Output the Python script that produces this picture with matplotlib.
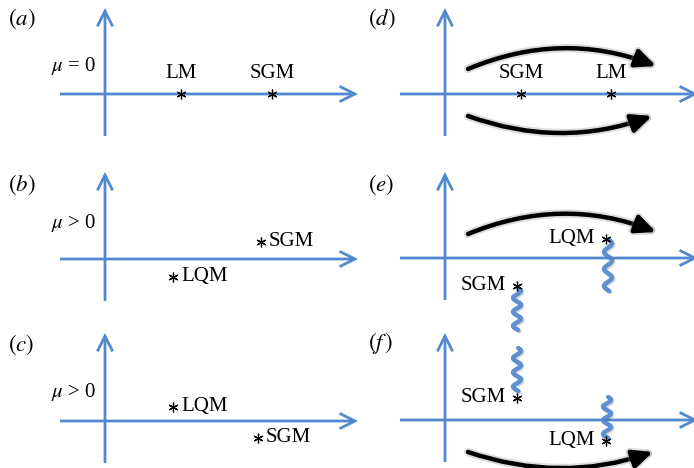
import numpy as np
import matplotlib.pyplot as plt
from matplotlib.patches import FancyArrowPatch, ArrowStyle
from matplotlib import patheffects

plt.rcParams['font.family'] = ['Liberation Serif', 'DejaVu Serif']
plt.rcParams['mathtext.fontset'] = 'stix'

BLUE = '#5089cf'
WAVE = '#4f86d0'

# panel labels and origins (x of vertical axis, y of horizontal axis), in pixels
panel_labels = ['$(a)$', '$(b)$', '$(c)$', '$(d)$', '$(e)$', '$(f\\,)$']
label_pos = [(8, 19), (8, 185), (8, 345), (368, 19), (368, 185), (368, 343)]
origin_x = [105, 105, 105, 445, 445, 445]
origin_y = [94, 259, 421, 94, 258, 420]
mu_labels = [r'$\mu$ = 0', r'$\mu$ > 0', r'$\mu$ > 0', None, None, None]
mu_y = [66, 223, 392]

# modes: panel index, x, y, label, label placement
mode_panel = [0, 0, 1, 1, 2, 2, 3, 3, 4, 4, 5, 5]
mode_x = [181, 272, 261, 173, 173, 258, 521, 611, 606, 517, 517, 606]
mode_y = [94, 94, 242, 277, 407, 438, 94, 94, 239, 286, 398, 441]
mode_names = ['LM', 'SGM', 'SGM', 'LQM', 'LQM', 'SGM',
              'SGM', 'LM', 'LQM', 'SGM', 'SGM', 'LQM']
mode_place = ['above', 'above', 'right', 'right', 'right', 'right',
              'above', 'above', 'left', 'left', 'left', 'left']

# decaying (wavy) modes: x, y top, y bottom
wave_x = [608, 517, 517, 607]
wave_top = [240, 288, 348, 397]
wave_bottom = [291, 330, 391, 438]

# curved transfer arrows: start, end, bend
curve_start = [(468, 69), (468, 116), (468, 234), (468, 452)]
curve_end = [(656, 66), (652, 116), (656, 232), (653, 452)]
curve_rad = [-0.2, 0.18, -0.2, 0.17]


def axis_arrow(ax, start, end):
    style = ArrowStyle('->', head_length=11, head_width=5.5)
    ax.add_patch(FancyArrowPatch(start, end, arrowstyle=style, mutation_scale=1,
                                 color=BLUE, lw=2.0, shrinkA=0, shrinkB=0,
                                 capstyle='butt', joinstyle='miter'))


def main():
    fig = plt.figure(figsize=(6.94, 4.68), dpi=100)
    ax = fig.add_axes([0, 0, 1, 1])
    ax.set_xlim(0, 694)
    ax.set_ylim(468, 0)
    ax.axis('off')

    for i, (ox, oy) in enumerate(zip(origin_x, origin_y)):
        top = 8 if i % 3 == 0 else (172 if i % 3 == 1 else 333)
        bottom = oy + 42
        axis_arrow(ax, (ox, bottom), (ox, top))
        axis_arrow(ax, (ox - 45, oy), (ox + 253, oy))
        lx, ly = label_pos[i]
        ax.text(lx, ly, panel_labels[i], fontsize=16.5, ha='left', va='center')
        if mu_labels[i]:
            ax.text(ox - 9, mu_y[i], mu_labels[i], fontsize=15, ha='right', va='center')

    for x, y0, y1 in zip(wave_x, wave_top, wave_bottom):
        t = np.linspace(0, 1, 200)
        yy = y0 + (y1 - y0) * t
        xx = x + 4.0 * np.sin(2 * np.pi * 3.0 * t + 0.3)
        ax.plot(xx, yy, color=WAVE, lw=3.2, solid_capstyle='round', alpha=0.9,
                path_effects=[patheffects.SimpleLineShadow(offset=(1, -1), alpha=0.15),
                              patheffects.Normal()])

    for p, x, y, name, place in zip(mode_panel, mode_x, mode_y, mode_names, mode_place):
        ax.plot(x, y, marker=(6, 2, 0), ms=7, mew=0.9, color='black', zorder=5)
        if place == 'above':
            ax.text(x, y - 20, name, fontsize=15, ha='center', va='center')
        elif place == 'right':
            ax.text(x + 8, y, name, fontsize=15, ha='left', va='center')
        else:
            ax.text(x - 11, y - 1, name, fontsize=15, ha='right', va='center')

    for start, end, rad in zip(curve_start, curve_end, curve_rad):
        style = ArrowStyle('-|>', head_length=12, head_width=5.5)
        arrow = FancyArrowPatch(start, end, arrowstyle=style, mutation_scale=1,
                                connectionstyle='arc3,rad=%s' % rad, color='black',
                                lw=3.2, shrinkA=0, shrinkB=0, zorder=4)
        arrow.set_path_effects([patheffects.Stroke(linewidth=6, foreground='0.55', alpha=0.3),
                                patheffects.Normal()])
        ax.add_patch(arrow)

    fig.savefig('out.png', dpi=100)


if __name__ == "__main__":
    main()
